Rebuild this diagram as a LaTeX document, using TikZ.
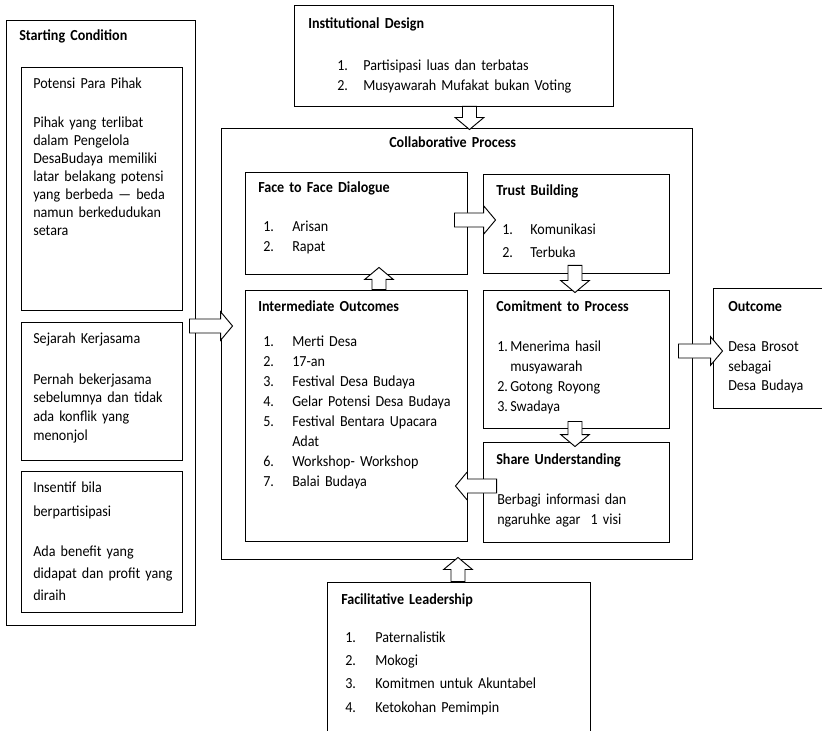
\documentclass[tikz,border=0pt]{standalone}
\usepackage{fontspec}
\setmainfont{Carlito}[FakeStretch=0.92]
\usetikzlibrary{calc,fit}
\tikzset{
  box/.style={draw, line width=0.7pt, inner sep=0pt},
  ttl/.style={anchor=base west, inner sep=0pt, text width=200pt, align=left,
      font=\fontsize{11.5}{13}\selectfont\bfseries},
  txt/.style={anchor=base west, inner sep=0pt, text width=200pt, align=left,
      font=\fontsize{11.5}{#1}\selectfont},
  txt/.default=14,
  blockarrow/.style={draw, line width=0.7pt, fill=white, line join=miter},
}
% list number in a fixed column
\newcommand\itemnum[2]{\makebox[#1][l]{#2}}
% hollow block arrow from #1 to #2
\newcommand\blockarrow[2]{%
  \draw[blockarrow] let \p1=#1, \p2=#2,
      \n1={atan2(\y2-\y1,\x2-\x1)}, \n2={veclen(\x2-\x1,\y2-\y1)} in
    ($(\p1)+(\n1+90:5.25pt)$) -- ++(\n1:\n2-9pt) -- ++(\n1+90:5.5pt)
    -- (\p2) -- ($(\p2)+(\n1+180:9pt)+(\n1-90:10.75pt)$) -- ++(\n1+90:5.5pt)
    -- ($(\p1)+(\n1-90:5.25pt)$) -- cycle;
}

\begin{document}
\begin{tikzpicture}[x=0.75pt, y=-0.75pt]
  \clip (0,0) rectangle (822,731);

  % boxes
  \node[box, fit={(6,20) (195,625)}] (sc) {};
  \node[box, fit={(21,67) (182,310)}] (pp) {};
  \node[box, fit={(21,322) (182,460)}] (sk) {};
  \node[box, fit={(21,471) (182,612)}] (ins) {};
  \node[box, fit={(294,5) (613,106)}] (idn) {};
  \node[box, fit={(221,128) (692,559)}] (cp) {};
  \node[box, fit={(245,172) (467,274)}] (ff) {};
  \node[box, fit={(483,174) (669,273)}] (tb) {};
  \node[box, fit={(245,290) (467,541)}] (io) {};
  \node[box, fit={(483,290) (669,428)}] (ct) {};
  \node[box, fit={(483,442) (669,542)}] (su) {};
  \node[box, fit={(713,288) (840,408)}] (oc) {};
  \node[box, fit={(327,582) (590,750)}] (fl) {};

  % texts
  \node[ttl] (sct) at (19,41) {Starting Condition};
  \node[txt=13.5] (ppt) at (33,89) {Potensi Para Pihak};
  \node[txt=13.5] (ppb) at (33,128) {Pihak yang terlibat\\dalam Pengelola\\DesaBudaya memiliki\\latar belakang potensi\\yang berbeda — beda\\namun berkedudukan\\setara};
  \node[txt] (skt) at (33,344) {Sejarah Kerjasama};
  \node[txt=14] (skb) at (33,384) {Pernah bekerjasama\\sebelumnya dan tidak\\ada konflik yang\\menonjol};
  \node[txt=18] (inst) at (33,492) {Insentif bila\\berpartisipasi};
  \node[txt=16.5] (insb) at (33,556) {Ada benefit yang\\didapat dan profit yang\\diraih};

  \node[ttl] (idnt) at (308,29) {Institutional Design};
  \node[txt=15] (idnb) at (337,71) {\itemnum{19.5pt}{1.}Partisipasi luas dan terbatas\\
    \itemnum{19.5pt}{2.}Musyawarah Mufakat bukan Voting};

  \node[ttl] (cpt) at (389,148) {Collaborative Process};
  \node[ttl] (fft) at (258,193) {Face to Face Dialogue};
  \node[txt=15] (ffb) at (263,232) {\itemnum{21.75pt}{1.}Arisan\\\itemnum{21.75pt}{2.}Rapat};
  \node[ttl] (tbt) at (496,196) {Trust Building};
  \node[txt=17.25] (tbb) at (502,235) {\itemnum{21pt}{1.}Komunikasi\\\itemnum{21pt}{2.}Terbuka};
  \node[ttl] (iot) at (258,311) {Intermediate Outcomes};
  \node[txt=15] (iob) at (263,347) {\itemnum{21.75pt}{1.}Merti Desa\\
    \itemnum{21.75pt}{2.}17-an\\
    \itemnum{21.75pt}{3.}Festival Desa Budaya\\
    \itemnum{21.75pt}{4.}Gelar Potensi Desa Budaya\\
    \itemnum{21.75pt}{5.}Festival Bentara Upacara\\
    \itemnum{21.75pt}{}Adat\\
    \itemnum{21.75pt}{6.}Workshop- Workshop\\
    \itemnum{21.75pt}{7.}Balai Budaya};
  \node[ttl] (ctt) at (496,311) {Comitment to Process};
  \node[txt=15] (ctb) at (497,351) {\itemnum{9.75pt}{1.}Menerima hasil\\
    \itemnum{9.75pt}{}musyawarah\\
    \itemnum{9.75pt}{2.}Gotong Royong\\
    \itemnum{9.75pt}{3.}Swadaya};
  \node[ttl] (sut) at (496,464) {Share Understanding};
  \node[txt=15] (sub) at (497,504) {Berbagi informasi dan\\ngaruhke agar~~1 visi};
  \node[ttl] (oct) at (728,311) {Outcome};
  \node[txt=14.6] (ocb) at (728,352) {Desa Brosot\\sebagai\\Desa Budaya};

  \node[ttl] (flt) at (341,604) {Facilitative Leadership};
  \node[txt=17.5] (flb) at (345,642) {\itemnum{22.5pt}{1.}Paternalistik\\
    \itemnum{22.5pt}{2.}Mokogi\\
    \itemnum{22.5pt}{3.}Komitmen untuk Akuntabel\\
    \itemnum{22.5pt}{4.}Ketokohan Pemimpin};

  % block arrows
  \coordinate (a1) at ($(sc.east)+(-6,3.5)$);
  \blockarrow{(a1)}{($(cp.west |- a1)+(12,0)$)}
  \coordinate (a2) at ($(idn.south)+(16,0)$);
  \blockarrow{(a2)}{($(cp.north -| a2)+(0,2)$)}
  \coordinate (a3) at ($(ff.east)+(-13,-3)$);
  \blockarrow{(a3)}{($(tb.west |- a3)+(13,0)$)}
  \coordinate (a4) at ($(io.north)+(23,0)$);
  \blockarrow{(a4)}{($(ff.south -| a4)+(0,-7)$)}
  \coordinate (a5) at ($(tb.south)+(-1,-8)$);
  \blockarrow{(a5)}{($(ct.north -| a5)+(0,3)$)}
  \coordinate (a6) at ($(ct.south)+(-1,-7)$);
  \blockarrow{(a6)}{($(su.north -| a6)+(0,5)$)}
  \coordinate (a7) at ($(su.west)+(14,-6)$);
  \blockarrow{(a7)}{($(io.east |- a7)+(-12,0)$)}
  \coordinate (a8) at ($(cp.east)+(-14,7.5)$);
  \blockarrow{(a8)}{($(oc.west |- a8)+(10,0)$)}
  \coordinate (a9) at ($(fl.north)+(-0.5,0)$);
  \blockarrow{(a9)}{($(cp.south -| a9)+(0,-2)$)}
\end{tikzpicture}
\end{document}
